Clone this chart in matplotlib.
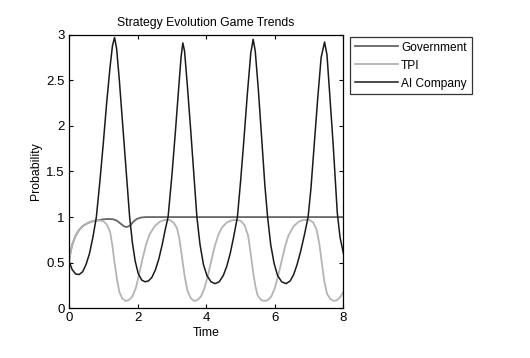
import matplotlib
matplotlib.use("Agg")
import matplotlib.pyplot as plt

# values
gov_t = [0.00, 0.05, 0.10, 0.20, 0.30, 0.40, 0.55, 0.70, 0.85, 1.00, 1.15, 1.30, 1.40, 1.50,
         1.60, 1.68, 1.78, 1.88, 1.98, 2.10, 2.25, 8.00]
gov_v = [0.50, 0.62, 0.70, 0.80, 0.86, 0.90, 0.935, 0.955, 0.965, 0.975, 0.98, 0.975, 0.96, 0.93,
         0.90, 0.89, 0.905, 0.95, 0.98, 0.995, 1.00, 1.00]

tpi_t = [0.00, 0.05, 0.10, 0.20, 0.30, 0.40, 0.55, 0.70, 0.85, 1.00, 1.10, 1.20, 1.27, 1.33,
         1.40, 1.47, 1.55, 1.65, 1.75, 1.85, 1.95, 2.05, 2.15, 2.25, 2.35, 2.50, 2.65, 2.80,
         2.95, 3.05, 3.15, 3.22, 3.30, 3.37, 3.45, 3.55, 3.65, 3.75, 3.85, 3.95, 4.05, 4.15,
         4.25, 4.35, 4.45, 4.60, 4.75, 4.90, 5.02, 5.12, 5.22, 5.29, 5.36, 5.43, 5.50, 5.60,
         5.70, 5.80, 5.90, 6.00, 6.10, 6.20, 6.30, 6.40, 6.55, 6.70, 6.85, 7.00, 7.12, 7.22,
         7.30, 7.37, 7.44, 7.52, 7.62, 7.72, 7.82, 7.92, 8.00]
tpi_v = [0.50, 0.62, 0.70, 0.80, 0.86, 0.90, 0.935, 0.955, 0.965, 0.955, 0.92, 0.84, 0.68, 0.50,
         0.32, 0.18, 0.11, 0.08, 0.09, 0.13, 0.22, 0.38, 0.55, 0.70, 0.81, 0.90, 0.95, 0.97,
         0.965, 0.94, 0.88, 0.76, 0.55, 0.36, 0.20, 0.11, 0.08, 0.09, 0.13, 0.22, 0.36, 0.52,
         0.68, 0.80, 0.88, 0.94, 0.965, 0.97, 0.955, 0.91, 0.80, 0.62, 0.42, 0.25, 0.14, 0.09,
         0.08, 0.09, 0.13, 0.22, 0.36, 0.52, 0.68, 0.80, 0.90, 0.95, 0.97, 0.97, 0.94, 0.86,
         0.70, 0.50, 0.30, 0.16, 0.10, 0.08, 0.09, 0.13, 0.18]

ai_t = [0.00, 0.10, 0.20, 0.30, 0.40, 0.50, 0.60, 0.70, 0.80, 0.90, 1.00, 1.10, 1.20, 1.27,
        1.33, 1.39, 1.47, 1.57, 1.67, 1.77, 1.85, 1.93, 2.02, 2.12, 2.22, 2.32, 2.42, 2.52,
        2.62, 2.72, 2.80, 2.89, 3.00, 3.10, 3.20, 3.27, 3.32, 3.37, 3.45, 3.55, 3.65, 3.73,
        3.82, 3.92, 4.02, 4.14, 4.26, 4.38, 4.50, 4.60, 4.70, 4.80, 4.91, 5.00, 5.10, 5.20,
        5.30, 5.37, 5.43, 5.52, 5.62, 5.71, 5.79, 5.88, 5.98, 6.08, 6.20, 6.33, 6.45, 6.55,
        6.65, 6.75, 6.86, 6.97, 7.05, 7.15, 7.25, 7.35, 7.45, 7.52, 7.60, 7.70, 7.82, 7.90,
        8.00]
ai_v = [0.52, 0.42, 0.375, 0.37, 0.40, 0.48, 0.60, 0.78, 1.00, 1.38, 1.80, 2.25, 2.65, 2.88,
        2.97, 2.85, 2.50, 2.00, 1.50, 1.00, 0.72, 0.52, 0.38, 0.31, 0.29, 0.30, 0.34, 0.42,
        0.54, 0.70, 0.85, 1.00, 1.45, 1.92, 2.42, 2.76, 2.91, 2.82, 2.45, 1.95, 1.42, 1.00,
        0.70, 0.48, 0.36, 0.29, 0.27, 0.29, 0.36, 0.46, 0.60, 0.78, 1.00, 1.38, 1.85, 2.35,
        2.80, 2.95, 2.82, 2.40, 1.85, 1.35, 1.00, 0.70, 0.49, 0.36, 0.29, 0.27, 0.30, 0.37,
        0.48, 0.62, 0.80, 1.00, 1.30, 1.80, 2.30, 2.75, 2.92, 2.78, 2.35, 1.80, 1.05, 0.78,
        0.60]

x_ticks = [0, 2, 4, 6, 8]
y_ticks = [0, 0.5, 1, 1.5, 2, 2.5, 3]

plt.rcParams['font.family'] = ['Liberation Sans', 'DejaVu Sans']

fig = plt.figure(figsize=(5.30, 3.58), dpi=100)
ax = fig.add_axes([0.130, 0.139, 0.518, 0.764])

ax.plot(gov_t, gov_v, color='#666666', lw=1.3, label='Government')
ax.plot(tpi_t, tpi_v, color='#b4b4b4', lw=1.3, label='TPI')
ax.plot(ai_t, ai_v, color='#1a1a1a', lw=1.1, label='AI Company')

ax.set_xlim(0, 8)
ax.set_ylim(0, 3)
ax.set_xticks(x_ticks)
ax.set_yticks(y_ticks)
ax.set_yticklabels(['0', '0.5', '1', '1.5', '2', '2.5', '3'])
ax.tick_params(direction='in', top=True, right=True, length=3, width=0.8, labelsize=9.5, pad=3)
for s in ax.spines.values():
    s.set_linewidth(0.9)

ax.set_title('Strategy Evolution Game Trends', fontsize=8.8, pad=6)
ax.set_xlabel('Time', fontsize=8.8, labelpad=2)
ax.set_ylabel('Probability', fontsize=8.8, labelpad=3)

leg = ax.legend(loc='upper left', bbox_to_anchor=(0.660, 0.897), bbox_transform=fig.transFigure,
                fontsize=8.6, frameon=True, fancybox=False, handlelength=3.6, handletextpad=0.3,
                borderpad=0.4, labelspacing=0.5, borderaxespad=0)
leg.get_frame().set_edgecolor('black')
leg.get_frame().set_linewidth(0.9)

fig.savefig('out.png', dpi=100)
